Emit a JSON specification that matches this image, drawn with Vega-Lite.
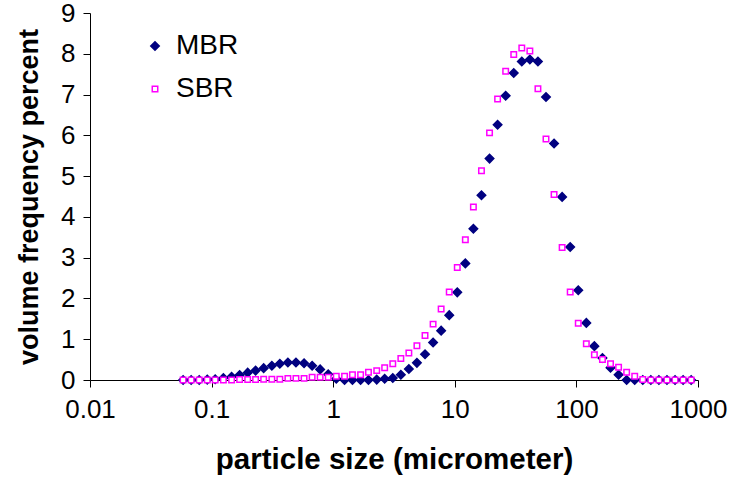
{
  "$schema": "https://vega.github.io/schema/vega-lite/v6.json",
  "width": 608,
  "height": 367,
  "autosize": {"type": "none"},
  "padding": {"left": 90, "top": 13, "right": 31, "bottom": 97},
  "background": "white",
  "config": {
    "view": {"stroke": null},
    "font": "Liberation Sans",
    "axis": {
      "grid": false,
      "domainColor": "black",
      "tickColor": "black",
      "domainWidth": 1,
      "tickWidth": 1,
      "tickSize": 7,
      "labelColor": "black",
      "labelFont": "Liberation Sans",
      "labelFontSize": 26,
      "titleFont": "Liberation Sans",
      "titleFontWeight": "bold",
      "titleColor": "black"
    },
    "legend": {
      "orient": "none",
      "legendX": 51,
      "legendY": 19,
      "padding": 0,
      "labelFont": "Liberation Sans",
      "labelFontSize": 28,
      "labelColor": "black",
      "labelOffset": 7,
      "rowPadding": 15,
      "symbolStrokeWidth": 1.5
    }
  },
  "data": {
    "values": [
      {"x": 0.0583, "v": 0, "s": "MBR"},
      {"x": 0.0679, "v": 0, "s": "MBR"},
      {"x": 0.0791, "v": 0, "s": "MBR"},
      {"x": 0.0921, "v": 0.01, "s": "MBR"},
      {"x": 0.107, "v": 0.02, "s": "MBR"},
      {"x": 0.125, "v": 0.05, "s": "MBR"},
      {"x": 0.146, "v": 0.08, "s": "MBR"},
      {"x": 0.170, "v": 0.12, "s": "MBR"},
      {"x": 0.198, "v": 0.18, "s": "MBR"},
      {"x": 0.230, "v": 0.23, "s": "MBR"},
      {"x": 0.268, "v": 0.29, "s": "MBR"},
      {"x": 0.313, "v": 0.35, "s": "MBR"},
      {"x": 0.364, "v": 0.40, "s": "MBR"},
      {"x": 0.424, "v": 0.43, "s": "MBR"},
      {"x": 0.494, "v": 0.43, "s": "MBR"},
      {"x": 0.576, "v": 0.41, "s": "MBR"},
      {"x": 0.671, "v": 0.35, "s": "MBR"},
      {"x": 0.781, "v": 0.26, "s": "MBR"},
      {"x": 0.910, "v": 0.14, "s": "MBR"},
      {"x": 1.06, "v": 0.03, "s": "MBR"},
      {"x": 1.24, "v": 0, "s": "MBR"},
      {"x": 1.44, "v": 0, "s": "MBR"},
      {"x": 1.68, "v": 0, "s": "MBR"},
      {"x": 1.95, "v": 0, "s": "MBR"},
      {"x": 2.28, "v": 0.01, "s": "MBR"},
      {"x": 2.65, "v": 0.03, "s": "MBR"},
      {"x": 3.09, "v": 0.05, "s": "MBR"},
      {"x": 3.60, "v": 0.13, "s": "MBR"},
      {"x": 4.19, "v": 0.27, "s": "MBR"},
      {"x": 4.88, "v": 0.42, "s": "MBR"},
      {"x": 5.69, "v": 0.63, "s": "MBR"},
      {"x": 6.63, "v": 0.92, "s": "MBR"},
      {"x": 7.72, "v": 1.21, "s": "MBR"},
      {"x": 9.00, "v": 1.59, "s": "MBR"},
      {"x": 10.48, "v": 2.15, "s": "MBR"},
      {"x": 12.21, "v": 2.86, "s": "MBR"},
      {"x": 14.22, "v": 3.71, "s": "MBR"},
      {"x": 16.57, "v": 4.53, "s": "MBR"},
      {"x": 19.31, "v": 5.43, "s": "MBR"},
      {"x": 22.49, "v": 6.26, "s": "MBR"},
      {"x": 26.20, "v": 6.97, "s": "MBR"},
      {"x": 30.53, "v": 7.53, "s": "MBR"},
      {"x": 35.56, "v": 7.81, "s": "MBR"},
      {"x": 41.43, "v": 7.86, "s": "MBR"},
      {"x": 48.27, "v": 7.81, "s": "MBR"},
      {"x": 56.23, "v": 6.94, "s": "MBR"},
      {"x": 65.51, "v": 5.80, "s": "MBR"},
      {"x": 76.32, "v": 4.49, "s": "MBR"},
      {"x": 88.91, "v": 3.26, "s": "MBR"},
      {"x": 103.58, "v": 2.20, "s": "MBR"},
      {"x": 120.67, "v": 1.40, "s": "MBR"},
      {"x": 140.58, "v": 0.83, "s": "MBR"},
      {"x": 163.77, "v": 0.54, "s": "MBR"},
      {"x": 190.80, "v": 0.30, "s": "MBR"},
      {"x": 222.28, "v": 0.13, "s": "MBR"},
      {"x": 258.95, "v": 0, "s": "MBR"},
      {"x": 301.68, "v": 0, "s": "MBR"},
      {"x": 351.46, "v": 0, "s": "MBR"},
      {"x": 409.45, "v": 0, "s": "MBR"},
      {"x": 477.01, "v": 0, "s": "MBR"},
      {"x": 555.71, "v": 0, "s": "MBR"},
      {"x": 647.41, "v": 0, "s": "MBR"},
      {"x": 754.23, "v": 0, "s": "MBR"},
      {"x": 878.67, "v": 0, "s": "MBR"},
      {"x": 0.0583, "v": 0, "s": "SBR"},
      {"x": 0.0679, "v": 0, "s": "SBR"},
      {"x": 0.0791, "v": 0, "s": "SBR"},
      {"x": 0.0921, "v": 0, "s": "SBR"},
      {"x": 0.107, "v": 0, "s": "SBR"},
      {"x": 0.125, "v": 0, "s": "SBR"},
      {"x": 0.146, "v": 0, "s": "SBR"},
      {"x": 0.170, "v": 0.01, "s": "SBR"},
      {"x": 0.198, "v": 0.01, "s": "SBR"},
      {"x": 0.230, "v": 0.01, "s": "SBR"},
      {"x": 0.268, "v": 0.02, "s": "SBR"},
      {"x": 0.313, "v": 0.02, "s": "SBR"},
      {"x": 0.364, "v": 0.02, "s": "SBR"},
      {"x": 0.424, "v": 0.04, "s": "SBR"},
      {"x": 0.494, "v": 0.04, "s": "SBR"},
      {"x": 0.576, "v": 0.04, "s": "SBR"},
      {"x": 0.671, "v": 0.07, "s": "SBR"},
      {"x": 0.781, "v": 0.07, "s": "SBR"},
      {"x": 0.910, "v": 0.07, "s": "SBR"},
      {"x": 1.06, "v": 0.09, "s": "SBR"},
      {"x": 1.24, "v": 0.09, "s": "SBR"},
      {"x": 1.44, "v": 0.13, "s": "SBR"},
      {"x": 1.68, "v": 0.13, "s": "SBR"},
      {"x": 1.95, "v": 0.19, "s": "SBR"},
      {"x": 2.28, "v": 0.23, "s": "SBR"},
      {"x": 2.65, "v": 0.30, "s": "SBR"},
      {"x": 3.09, "v": 0.40, "s": "SBR"},
      {"x": 3.60, "v": 0.53, "s": "SBR"},
      {"x": 4.19, "v": 0.66, "s": "SBR"},
      {"x": 4.88, "v": 0.84, "s": "SBR"},
      {"x": 5.69, "v": 1.09, "s": "SBR"},
      {"x": 6.63, "v": 1.37, "s": "SBR"},
      {"x": 7.72, "v": 1.74, "s": "SBR"},
      {"x": 9.00, "v": 2.16, "s": "SBR"},
      {"x": 10.48, "v": 2.76, "s": "SBR"},
      {"x": 12.21, "v": 3.44, "s": "SBR"},
      {"x": 14.22, "v": 4.24, "s": "SBR"},
      {"x": 16.57, "v": 5.13, "s": "SBR"},
      {"x": 19.31, "v": 6.06, "s": "SBR"},
      {"x": 22.49, "v": 6.89, "s": "SBR"},
      {"x": 26.20, "v": 7.57, "s": "SBR"},
      {"x": 30.53, "v": 7.98, "s": "SBR"},
      {"x": 35.56, "v": 8.14, "s": "SBR"},
      {"x": 41.43, "v": 8.07, "s": "SBR"},
      {"x": 48.27, "v": 7.14, "s": "SBR"},
      {"x": 56.23, "v": 5.91, "s": "SBR"},
      {"x": 65.51, "v": 4.55, "s": "SBR"},
      {"x": 76.32, "v": 3.25, "s": "SBR"},
      {"x": 88.91, "v": 2.16, "s": "SBR"},
      {"x": 103.58, "v": 1.39, "s": "SBR"},
      {"x": 120.67, "v": 0.89, "s": "SBR"},
      {"x": 140.58, "v": 0.62, "s": "SBR"},
      {"x": 163.77, "v": 0.50, "s": "SBR"},
      {"x": 190.80, "v": 0.40, "s": "SBR"},
      {"x": 222.28, "v": 0.31, "s": "SBR"},
      {"x": 258.95, "v": 0.19, "s": "SBR"},
      {"x": 301.68, "v": 0.09, "s": "SBR"},
      {"x": 351.46, "v": 0.01, "s": "SBR"},
      {"x": 409.45, "v": 0, "s": "SBR"},
      {"x": 477.01, "v": 0, "s": "SBR"},
      {"x": 555.71, "v": 0, "s": "SBR"},
      {"x": 647.41, "v": 0, "s": "SBR"},
      {"x": 754.23, "v": 0, "s": "SBR"},
      {"x": 878.67, "v": 0, "s": "SBR"}
    ]
  },
  "mark": {"type": "point", "filled": false, "strokeWidth": 1.5, "opacity": 1, "clip": false},
  "encoding": {
    "x": {
      "field": "x",
      "type": "quantitative",
      "scale": {"type": "log", "domain": [0.01, 1000], "nice": false},
      "axis": {
        "title": "particle size (micrometer)",
        "titleFontSize": 29.5,
        "values": [0.01, 0.1, 1, 10, 100, 1000],
        "format": "~g",
        "labelPadding": 9,
        "titlePadding": 23,
        "labelOverlap": false,
        "labelBound": false,
        "labelFlush": false
      }
    },
    "y": {
      "field": "v",
      "type": "quantitative",
      "scale": {"domain": [0, 9], "nice": false, "zero": true},
      "axis": {
        "title": "volume frequency percent",
        "titleFontSize": 27,
        "values": [0, 1, 2, 3, 4, 5, 6, 7, 8, 9],
        "labelPadding": 8,
        "titlePadding": 17,
        "labelOverlap": false,
        "labelFlush": false
      }
    },
    "shape": {
      "field": "s",
      "type": "nominal",
      "scale": {"domain": ["MBR", "SBR"], "range": ["diamond", "square"]},
      "legend": {"title": null}
    },
    "stroke": {
      "field": "s",
      "type": "nominal",
      "scale": {"domain": ["MBR", "SBR"], "range": ["#000080", "#FF00FF"]},
      "legend": {"title": null}
    },
    "fill": {
      "field": "s",
      "type": "nominal",
      "scale": {"domain": ["MBR", "SBR"], "range": ["#000080", "#FFFFFF"]},
      "legend": {"title": null}
    },
    "size": {
      "field": "s",
      "type": "nominal",
      "scale": {"domain": ["MBR", "SBR"], "range": [72, 30]},
      "legend": {"title": null}
    }
  }
}
